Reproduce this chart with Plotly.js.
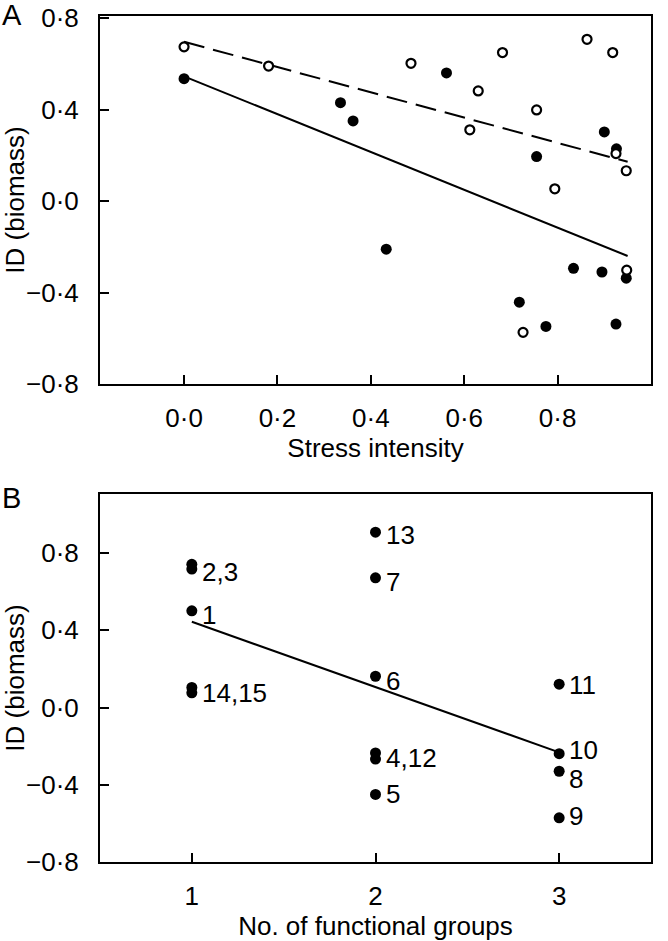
<!DOCTYPE html>
<html>
<head>
<meta charset="utf-8">
<script src="https://cdn.plot.ly/plotly-3.0.1.min.js"></script>
<style>
  html, body { margin: 0; padding: 0; background: #fff; }
  #chart { width: 668px; height: 941px; }
</style>
</head>
<body>
<div id="chart"></div>
<script>
// Panel A: stress intensity vs ID (biomass)
const stressFilled = [0.0, 0.335, 0.362, 0.433, 0.562, 0.718, 0.755, 0.775, 0.834, 0.895, 0.900, 0.925, 0.926, 0.947];
const idFilled     = [0.536, 0.431, 0.351, -0.210, 0.561, -0.442, 0.195, -0.548, -0.294, -0.310, 0.303, -0.538, 0.229, -0.337];
const stressOpen = [0.0, 0.181, 0.486, 0.612, 0.630, 0.682, 0.726, 0.755, 0.794, 0.863, 0.918, 0.925, 0.947, 0.948];
const idOpen     = [0.675, 0.591, 0.603, 0.312, 0.482, 0.650, -0.574, 0.399, 0.054, 0.708, 0.650, 0.208, 0.133, -0.302];

// fitted lines (end points)
const fitStress = [0.0, 0.95];
const fitFilled = [0.546, -0.240];
const fitOpen   = [0.697, 0.172];

// Panel B: number of functional groups vs ID (biomass)
const groups = [1, 1, 1, 1, 1, 2, 2, 2, 2, 2, 2, 3, 3, 3, 3];
const idB    = [0.501, 0.742, 0.717, 0.104, 0.076, 0.908, 0.672, 0.162, -0.235, -0.267, -0.450, 0.121, -0.239, -0.330, -0.571];
const labelText   = ['1', '2,3', '14,15', '13', '7', '6', '4,12', '5', '11', '10', '8', '9'];
const labelGroups = [1, 1, 1, 2, 2, 2, 2, 2, 3, 3, 3, 3];
const labelId     = [0.501, 0.73, 0.09, 0.908, 0.672, 0.162, -0.251, -0.450, 0.121, -0.239, -0.330, -0.571];
const fitGroups = [1, 3];
const fitB      = [0.444, -0.232];

// tick labels use the middle dot as decimal mark
const yTicks = [-0.8, -0.4, 0, 0.4, 0.8];
const yTickText = ['\u22120\u00b78', '\u22120\u00b74', '0\u00b70', '0\u00b74', '0\u00b78'];
const xTicksA = [0, 0.2, 0.4, 0.6, 0.8, 1.0];
const xTickTextA = ['0\u00b70', '0\u00b72', '0\u00b74', '0\u00b76', '0\u00b78', '1\u00b70'];
const xTicksB = [1, 2, 3];
const xTickTextB = ['1', '2', '3'];

const FONT = 'Liberation Sans, Arial, Helvetica, sans-serif';
const FS = 26;

const traces = [
  {
    x: fitStress, y: fitOpen, mode: 'lines', xaxis: 'x', yaxis: 'y',
    line: { color: '#000', width: 2, dash: '21px,9px' }, hoverinfo: 'skip'
  },
  {
    x: fitStress, y: fitFilled, mode: 'lines', xaxis: 'x', yaxis: 'y',
    line: { color: '#000', width: 2 }, hoverinfo: 'skip'
  },
  {
    x: stressFilled, y: idFilled, mode: 'markers', xaxis: 'x', yaxis: 'y',
    marker: { color: '#000', size: 11, line: { width: 0 } }
  },
  {
    x: stressOpen, y: idOpen, mode: 'markers', xaxis: 'x', yaxis: 'y',
    marker: { color: '#fff', size: 9, line: { color: '#000', width: 2.2 } }
  },
  {
    x: fitGroups, y: fitB, mode: 'lines', xaxis: 'x2', yaxis: 'y2',
    line: { color: '#000', width: 2 }, hoverinfo: 'skip'
  },
  {
    x: groups, y: idB, mode: 'markers', xaxis: 'x2', yaxis: 'y2',
    marker: { color: '#000', size: 11, line: { width: 0 } }
  }
];

const baseAxis = {
  showline: true, linecolor: '#000', linewidth: 2, mirror: true,
  ticks: 'inside', ticklen: 9, tickwidth: 2, tickcolor: '#000',
  showgrid: false, zeroline: false,
  tickfont: { family: FONT, size: FS, color: '#000' }
};

// small pixel nudges for the point labels (down is negative)
const labelNudge = [-4, -5, -3, -3, -4, -5, -2, 0, -1, 4, -8, 2];

const labelAnnotations = labelText.map((t, i) => ({
  x: labelGroups[i], y: labelId[i], xref: 'x2', yref: 'y2',
  text: t, showarrow: false, xanchor: 'left', yanchor: 'middle',
  xshift: 9, yshift: labelNudge[i], borderpad: 0,
  font: { family: FONT, size: FS, color: '#000' }
}));

const layout = {
  width: 668, height: 941,
  margin: { l: 100, r: 17, t: 16, b: 79 },
  paper_bgcolor: '#fff', plot_bgcolor: '#fff',
  showlegend: false,
  font: { family: FONT, size: FS, color: '#000' },
  xaxis: {
    ...baseAxis, anchor: 'y', domain: [0, 1],
    range: [-0.18, 1.0], tickvals: xTicksA, ticktext: xTickTextA,
    ticklabelstandoff: 10,
    title: { text: 'Stress intensity', font: { family: FONT, size: FS }, standoff: 5 }
  },
  yaxis: {
    ...baseAxis, anchor: 'x', domain: [0.565, 1],
    range: [-0.8, 0.81], tickvals: yTicks, ticktext: yTickText,
    ticklabelstandoff: 14,
    title: { text: 'ID (biomass)', font: { family: FONT, size: FS }, standoff: 4 }
  },
  xaxis2: {
    ...baseAxis, anchor: 'y2', domain: [0, 1],
    range: [0.5, 3.5], tickvals: xTicksB, ticktext: xTickTextB,
    ticklabelstandoff: 10,
    title: { text: 'No. of functional groups', font: { family: FONT, size: FS }, standoff: 8 }
  },
  yaxis2: {
    ...baseAxis, anchor: 'x2', domain: [0, 0.435],
    range: [-0.8, 1.106], tickvals: yTicks, ticktext: yTickText,
    ticklabelstandoff: 14,
    title: { text: 'ID (biomass)', font: { family: FONT, size: FS }, standoff: 4 }
  },
  annotations: [
    { text: 'A', xref: 'paper', yref: 'paper', x: -100 / 551, y: 1.001,
      xanchor: 'left', yanchor: 'middle', showarrow: false,
      font: { family: FONT, size: 29, color: '#000' } },
    { text: 'B', xref: 'paper', yref: 'paper', x: -100 / 551, y: 0.430,
      xanchor: 'left', yanchor: 'middle', showarrow: false,
      font: { family: FONT, size: 29, color: '#000' } },
    ...labelAnnotations
  ]
};

Plotly.newPlot('chart', traces, layout, { staticPlot: true });
</script>
</body>
</html>
